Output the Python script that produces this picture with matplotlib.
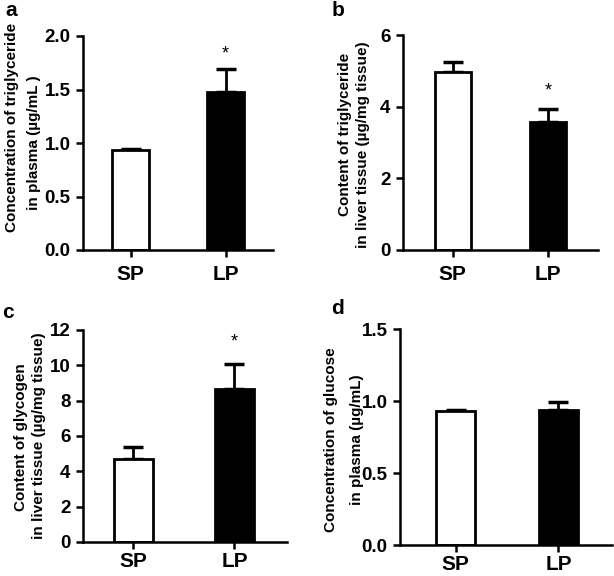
import matplotlib
matplotlib.use("Agg")
import matplotlib.pyplot as plt

plt.rcParams['font.family'] = ['Liberation Sans', 'DejaVu Sans']
plt.rcParams['font.weight'] = 'bold'

W, H = 614, 576

groups = ['SP', 'LP']

# a: triglyceride in plasma
tg_plasma_mean = [0.93, 1.48]
tg_plasma_err = [0.01, 0.21]
# b: triglyceride in liver
tg_liver_mean = [4.97, 3.56]
tg_liver_err = [0.28, 0.37]
# c: glycogen in liver
glycogen_mean = [4.70, 8.65]
glycogen_err = [0.69, 1.45]
# d: glucose in plasma
glucose_mean = [0.93, 0.94]
glucose_err = [0.01, 0.05]


def px_box(left, top, right, bottom):
    return [left / W, 1 - bottom / H, (right - left) / W, (bottom - top) / H]


def px(x, y):
    return x / W, 1 - y / H


def draw_panel(fig, box, xlim, means, errs, ymax, yticks, fmt, star_y, star_idx, xpad):
    ax = fig.add_axes(box)
    x = list(range(len(groups)))
    ax.bar(x, means, width=0.38, color=['white', 'black'], edgecolor='black',
           linewidth=2.0, zorder=2)
    low = [0] * len(errs)
    ax.errorbar(x, means, yerr=[low, errs], fmt='none', ecolor='black',
                elinewidth=2.0, capsize=7.5, capthick=2.5, zorder=1)
    ax.set_xlim(*xlim)
    ax.set_ylim(0, ymax)
    ax.set_yticks(yticks)
    ax.set_yticklabels([fmt.format(v) for v in yticks], fontsize=13.5, fontweight='bold')
    ax.set_xticks(x)
    ax.set_xticklabels(groups, fontsize=15, fontweight='bold')
    for s in ['top', 'right']:
        ax.spines[s].set_visible(False)
    for s in ['left', 'bottom']:
        ax.spines[s].set_linewidth(1.8)
    ax.tick_params(axis='both', width=1.8, length=5, direction='out', pad=4)
    ax.tick_params(axis='x', pad=xpad)
    if star_idx is not None:
        ax.text(x[star_idx], star_y, '*', ha='center', va='center', fontsize=13,
                fontweight='normal')
    return ax


fig = plt.figure(figsize=(W / 100, H / 100), dpi=100)

draw_panel(fig, px_box(83, 36, 273, 250), (-0.5, 1.5), tg_plasma_mean, tg_plasma_err,
           2.0, [0.0, 0.5, 1.0, 1.5, 2.0], '{:.1f}', 1.83, 1, 6)
draw_panel(fig, px_box(403, 35, 598, 250), (-0.52, 1.52), tg_liver_mean, tg_liver_err,
           6, [0, 2, 4, 6], '{:.0f}', 4.45, 1, 6)
draw_panel(fig, px_box(83, 330, 287, 542), (-0.5, 1.52), glycogen_mean, glycogen_err,
           12, [0, 2, 4, 6, 8, 10, 12], '{:.0f}', 11.3, 1, 2)
draw_panel(fig, px_box(400, 329, 612, 545), (-0.54, 1.52), glucose_mean, glucose_err,
           1.5, [0.0, 0.5, 1.0, 1.5], '{:.1f}', None, None, 2)

# y labels, two lines each
labels = [
    ("Concentration of triglyceride", 12, 127),
    ("in plasma (\u00b5g/mL )", 34, 143),
    ("Content of triglyceride", 345, 134),
    ("in liver tissue (\u00b5g/mg tissue)", 363, 145),
    ("Content of glycogen", 21, 437),
    ("in liver tissue (\u00b5g/mg tissue)", 39, 436),
    ("Concentration of glucose", 331, 440),
    ("in plasma (\u00b5g/mL)", 357, 440),
]
for txt, lx, ly in labels:
    fx, fy = px(lx, ly)
    fig.text(fx, fy, txt, rotation=90, ha='center', va='center', fontsize=11,
             fontweight='bold')

# panel letters
for letter, lx, ly in [('a', 11, 10), ('b', 338, 10), ('c', 8, 312), ('d', 337, 309)]:
    fx, fy = px(lx, ly)
    fig.text(fx, fy, letter, ha='center', va='center', fontsize=15, fontweight='bold')

fig.savefig('out.png', dpi=100)
